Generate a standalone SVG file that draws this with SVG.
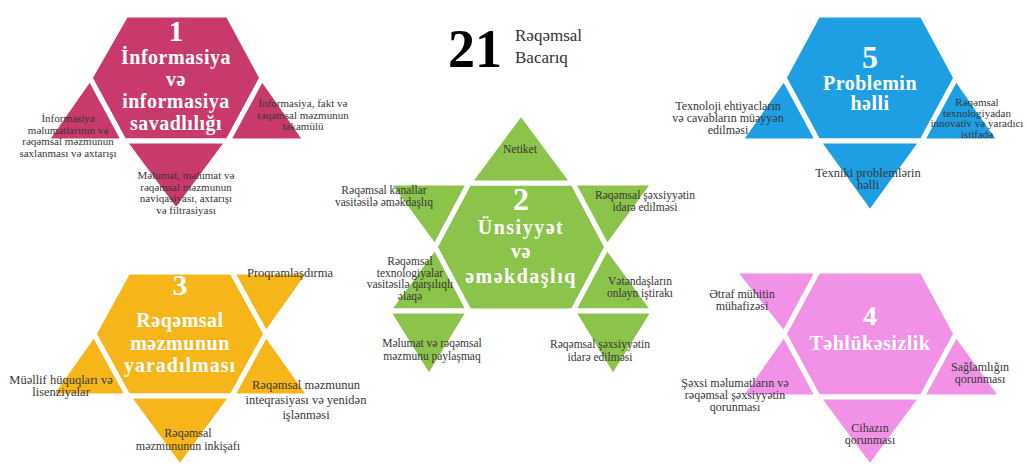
<svg xmlns="http://www.w3.org/2000/svg" width="1027" height="464" viewBox="0 0 1027 464">
<style>
.sh{stroke:#fff;stroke-width:5;stroke-linejoin:miter}
.c1{fill:#c83a6b}.c2{fill:#8cc44b}.c3{fill:#f6b619}.c4{fill:#f192e7}.c5{fill:#1e9fe4}
.lb{font-family:"Liberation Serif","Times New Roman","DejaVu Serif",serif;font-size:11.5px;fill:#363636;text-anchor:middle}
.s11{font-size:11px}.s12{font-size:12px}.s125{font-size:12.5px}
.num{font-family:"Liberation Serif","Times New Roman","DejaVu Serif",serif;font-weight:bold;fill:#fff;text-anchor:middle}
.tt{font-family:"Liberation Serif","Times New Roman","DejaVu Serif",serif;font-weight:bold;font-size:20px;fill:#fff;text-anchor:middle;letter-spacing:0.5px}
.hd{font-family:"Liberation Serif","Times New Roman","DejaVu Serif",serif}
</style>
<rect width="1027" height="464" fill="#fff"/>
<g id="connectors"/>

<g id="title">
<text class="hd" x="448" y="67" font-weight="bold" font-size="54" fill="#000">21</text>
<text class="hd" x="515" y="41" font-size="17" fill="#333">Rəqəmsal</text>
<text class="hd" x="515" y="63" font-size="17" fill="#333">Bacarıq</text>
</g>

<!-- Cluster 1 -->
<g id="cluster1">
<g id="c1-hex">
<polygon class="sh c1" points="126,15 228,15 262,78 228,141 124,141 90,78"/>
<text class="num" x="176" y="41" font-size="30">1</text>
<text class="tt" x="176" y="64">İnformasiya</text>
<text class="tt" x="176" y="86">və</text>
<text class="tt" x="176" y="108">informasiya</text>
<text class="tt" x="176" y="130">savadlılığı</text>
</g>
<g id="c1-left">
<polygon class="sh c1" points="90,78 124,141 46,141"/>
<text class="lb s11" x="68" y="122">İnformasiya</text>
<text class="lb s11" x="68" y="133.5">məlumatlarının və</text>
<text class="lb s11" x="68" y="145">rəqəmsal məzmunun</text>
<text class="lb s11" x="68" y="156.5">saxlanması və axtarışı</text>
</g>
<g id="c1-right">
<polygon class="sh c1" points="262,78 306,141 228,141"/>
<text class="lb s11" x="303" y="107">İnformasiya, fakt və</text>
<text class="lb s11" x="303" y="118.5">rəqəmsal məzmunun</text>
<text class="lb s11" x="303" y="130">təkamülü</text>
</g>
<g id="c1-bottom">
<polygon class="sh c1" points="124,141 228,141 176,211"/>
<text class="lb s11" x="186" y="179">Məlumat, məlumat və</text>
<text class="lb s11" x="186" y="190.5">rəqəmsal məzmunun</text>
<text class="lb s11" x="186" y="202">naviqasiyası, axtarışı</text>
<text class="lb s11" x="186" y="213.5">və filtrasiyası</text>
</g>
</g>

<!-- Cluster 5 -->
<g id="cluster5">
<g id="c5-hex">
<polygon class="sh c5" points="818,15 922,15 956,78 922,141 818,141 784,78"/>
<text class="num" x="870" y="68" font-size="32">5</text>
<text class="tt" x="870" y="90">Problemin</text>
<text class="tt" x="870" y="110">həlli</text>
</g>
<g id="c5-left">
<polygon class="sh c5" points="784,78 818,141 740,141"/>
<text class="lb s12" x="728" y="110">Texnoloji ehtiyacların</text>
<text class="lb s12" x="728" y="122">və cavabların müəyyən</text>
<text class="lb s12" x="728" y="134">edilməsi</text>
</g>
<g id="c5-right">
<polygon class="sh c5" points="956,78 1000,141 922,141"/>
<text class="lb s11" x="977" y="106">Rəqəmsal</text>
<text class="lb s11" x="977" y="116.5">texnologiyadan</text>
<text class="lb s11" x="977" y="127">innovativ və yaradıcı</text>
<text class="lb s11" x="977" y="137.5">istifadə</text>
</g>
<g id="c5-bottom">
<polygon class="sh c5" points="818,141 922,141 870,213"/>
<text class="lb s125" x="868" y="177">Texniki problemlərin</text>
<text class="lb s125" x="868" y="189">həlli</text>
</g>
</g>

<!-- Cluster 2 -->
<g id="cluster2">
<g id="c2-hex">
<polygon class="sh c2" points="469,183 573,183 607,247 573,311 469,311 435,247"/>
<text class="num" x="521" y="210" font-size="32">2</text>
<text class="tt" x="521" y="234" style="letter-spacing:1.5px">Ünsiyyət</text>
<text class="tt" x="521" y="258">və</text>
<text class="tt" x="521" y="283" style="letter-spacing:1.5px">əməkdaşlıq</text>
</g>
<g id="c2-top">
<polygon class="sh c2" points="469,183 573,183 521,113"/>
<text class="lb" x="520" y="153">Netiket</text>
</g>
<g id="c2-ul">
<polygon class="sh c2" points="388,183 469,183 435,247"/>
<text class="lb" x="384" y="194">Rəqəmsal kanallar</text>
<text class="lb" x="384" y="206">vasitəsilə əməkdaşlıq</text>
</g>
<g id="c2-ur">
<polygon class="sh c2" points="573,183 654,183 607,247"/>
<text class="lb" x="645" y="199">Rəqəmsal şəxsiyyətin</text>
<text class="lb" x="645" y="211">idarə edilməsi</text>
</g>
<g id="c2-ll">
<polygon class="sh c2" points="435,247 469,311 388,311"/>
<text class="lb" x="410" y="265">Rəqəmsal</text>
<text class="lb" x="410" y="276.5">texnologiyalar</text>
<text class="lb" x="410" y="288">vasitəsilə qarşılıqlı</text>
<text class="lb" x="410" y="299.5">əlaqə</text>
</g>
<g id="c2-lr">
<polygon class="sh c2" points="607,247 654,311 573,311"/>
<text class="lb" x="640" y="285">Vətəndaşların</text>
<text class="lb" x="640" y="297">onlayn iştirakı</text>
</g>
<g id="c2-bl">
<polygon class="sh c2" points="388,311 469,311 429,377"/>
<text class="lb" x="432" y="347">Məlumat və rəqəmsal</text>
<text class="lb" x="432" y="359.5">məzmunu paylaşmaq</text>
</g>
<g id="c2-br">
<polygon class="sh c2" points="573,311 654,311 613,377"/>
<text class="lb" x="600" y="348">Rəqəmsal şəxsiyyətin</text>
<text class="lb" x="600" y="361">idarə edilməsi</text>
</g>
</g>

<!-- Cluster 3 -->
<g id="cluster3">
<g id="c3-hex">
<polygon class="sh c3" points="128,272 232,272 266,334 232,396 128,396 94,334"/>
<text class="num" x="180" y="295" font-size="30">3</text>
<text class="tt" x="180" y="327">Rəqəmsal</text>
<text class="tt" x="180" y="350">məzmunun</text>
<text class="tt" x="180" y="372" style="letter-spacing:1px">yaradılması</text>
</g>
<g id="c3-ur">
<polygon class="sh c3" points="232,272 310,272 266,334"/>
<text class="lb s125" x="290" y="277">Proqramlaşdırma</text>
</g>
<g id="c3-ll">
<polygon class="sh c3" points="94,334 128,396 50,396"/>
<text class="lb s125" x="61" y="384">Müəllif hüquqları və</text>
<text class="lb s125" x="61" y="396">lisenziyalar</text>
</g>
<g id="c3-lr">
<polygon class="sh c3" points="266,334 310,396 232,396"/>
<text class="lb s125" x="306" y="389">Rəqəmsal məzmunun</text>
<text class="lb s125" x="306" y="404">inteqrasiyası və yenidən</text>
<text class="lb s125" x="306" y="419">işlənməsi</text>
</g>
<g id="c3-bottom">
<polygon class="sh c3" points="128,396 232,396 180,467"/>
<text class="lb s12" x="188" y="437">Rəqəmsal</text>
<text class="lb s12" x="188" y="450">məzmununun inkişafı</text>
</g>
</g>

<!-- Cluster 4 -->
<g id="cluster4">
<g id="c4-hex">
<polygon class="sh c4" points="818,271 922,271 956,334 922,397 818,397 784,334"/>
<text class="num" x="870" y="325" font-size="28">4</text>
<text class="tt" x="870" y="350">Təhlükəsizlik</text>
</g>
<g id="c4-ul">
<polygon class="sh c4" points="734,271 818,271 784,334"/>
<text class="lb s12" x="742" y="298">Ətraf mühitin</text>
<text class="lb s12" x="742" y="310">mühafizəsi</text>
</g>
<g id="c4-ll">
<polygon class="sh c4" points="784,334 818,397 740,397"/>
<text class="lb s12" x="735" y="387">Şəxsi məlumatların və</text>
<text class="lb s12" x="735" y="399">rəqəmsal şəxsiyyətin</text>
<text class="lb s12" x="735" y="411">qorunması</text>
</g>
<g id="c4-lr">
<polygon class="sh c4" points="956,334 1002,397 922,397"/>
<text class="lb s12" x="980" y="371">Sağlamlığın</text>
<text class="lb s12" x="980" y="383">qorunması</text>
</g>
<g id="c4-bottom">
<polygon class="sh c4" points="818,397 922,397 870,467"/>
<text class="lb s12" x="870" y="432">Cihazın</text>
<text class="lb s12" x="870" y="444">qorunması</text>
</g>
</g>
</svg>
